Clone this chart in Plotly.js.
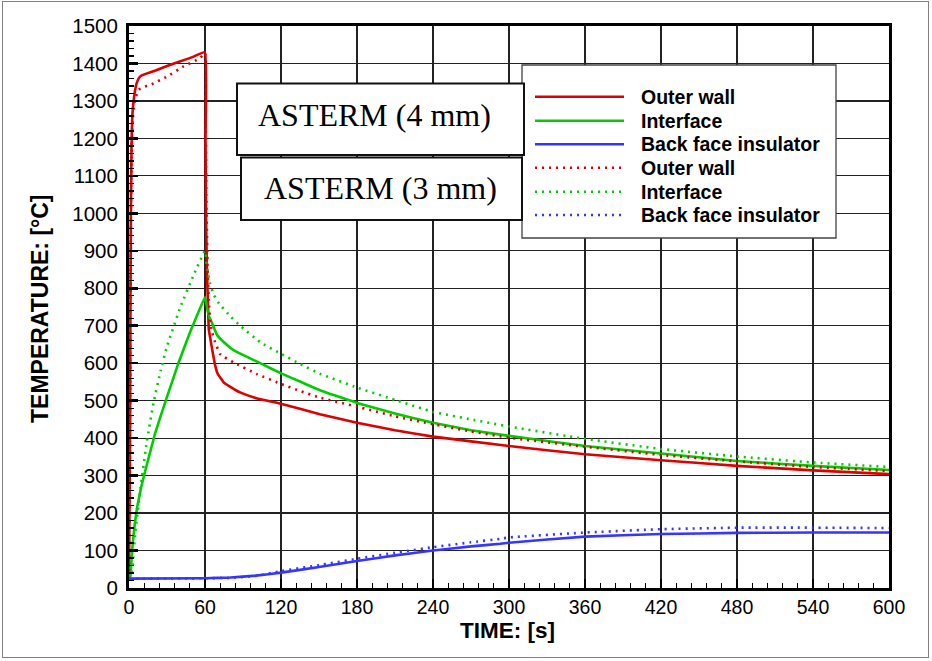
<!DOCTYPE html>
<html>
<head>
<meta charset="utf-8">
<script src="https://cdn.plot.ly/plotly-3.0.1.min.js"></script>
<style>
html,body{margin:0;padding:0;background:#fff;}
#wrap{position:relative;width:932px;height:661px;}
#chart{width:932px;height:661px;}
#frame{position:absolute;left:2px;top:1px;width:925px;height:655px;border:1.5px solid #808080;pointer-events:none;}
</style>
</head>
<body>
<div id="wrap"><div id="chart"></div><div id="frame"></div></div>
<script>
// ---- data ----
const seriesNames = ["Outer wall", "Interface", "Back face insulator"];
const xTickVals = [0, 60, 120, 180, 240, 300, 360, 420, 480, 540, 600];
const yTickVals = [0,100,200,300,400,500,600,700,800,900,1000,1100,1200,1300,1400,1500];

// ASTERM 4 mm (solid)
const tOuter4 = [0,0.8,1.2,1.6,2,2.5,3,4,5,6,8,10,20,30,40,50,60,60.4,60.8,61.5,62.5,63,65.5,68,70,74.7,80,87.7,100,120.6,150.7,180,210,240,300,360,420,480,540,600];
const TOuter4 = [25,400,800,1050,1180,1250,1280,1310,1332,1347,1362,1368,1380,1393,1405,1417,1430,1200,1000,850,740,690,640,595,572,549,537,522,507,491,464,441,421,404,379,357,341,326,314,304];
const tInter4 = [0,1,2,3,4.5,6.4,10,13,20.8,30,39,48.5,55,60,61,62,63.5,65.5,69.4,75,82.5,90,103.6,120.6,135,150.7,180,210,240,270,300,360,420,480,540,600];
const TInter4 = [25,30,75,120,170,215,275,315,415,510,600,685,738,776,760,742,722,708,676,656,635,622,600,572,551,528,494,466,441,421,406,379,359,339,326,315];
const tBack4 = [0,60,80,100,120,150,180,210,240,270,293,300,360,420,480,540,600];
const TBack4 = [25,26,28,33,41,56,72,87,100,111,118,121,137,144,147,148,148];

// ASTERM 3 mm (dotted)
const tOuter3 = [0,0.8,1.2,1.6,2,2.5,3,4,5,7.7,12,17,30,43,56,60,60.5,61,62,63,65,68,72,82.5,101,120.6,135,150.7,180,210,240,270,300,360,420,480,540,600];
const TOuter3 = [25,400,780,1020,1150,1220,1255,1290,1307,1330,1338,1343,1365,1392,1414,1428,1250,1050,860,760,690,656,624,602,571,544,526,508,484,458,437,418,401,377,355,338,323,312];
const tInter3 = [0,1,2.4,5,9,14,19.4,25,30,40.6,51,60,61,62,64,67,70.5,80,87.7,103.6,120.6,135,150.7,180,210,240,270,300,360,420,480,540,600];
const TInter3 = [25,30,45,150,265,390,495,580,645,750,835,900,872,850,812,782,762,725,700,656,624,598,572,535,502,470,450,431,398,371,351,335,323];
const tBack3 = [0,60,80,100,120,150,180,210,240,270,293,300,360,420,480,540,600];
const TBack3 = [25,26,27,32,45,61,78,94,109,122,131,135,148,157,161,161,160];

// ---- styling ----
const RED = '#dd0000', GREEN = '#00cc00', BLUE = '#3535ff';
const DOT = '2px,5px';
const SANS = 'Liberation Sans, Arial, Helvetica, sans-serif';
const SERIF = 'Liberation Serif, Times New Roman, serif';

const M = {l:129, r:43, t:26, b:73};
const W = 932, H = 661;
const PW = W - M.l - M.r, PH = H - M.t - M.b;
const X = px => (px - M.l) / PW;         // pixel -> paper
const Y = py => (H - M.b - py) / PH;

function tr(x, y, name, color, dash){
  return {x:x, y:y, name:name, type:'scatter', mode:'lines',
    line:{color:color, width:2.6, dash:dash, shape:'spline', smoothing:0.3}, showlegend:false, hoverinfo:'skip'};
}
const data = [
  tr(tOuter4, TOuter4, seriesNames[0], RED, 'solid'),
  tr(tInter4, TInter4, seriesNames[1], GREEN, 'solid'),
  tr(tBack4, TBack4, seriesNames[2], BLUE, 'solid'),
  tr(tOuter3, TOuter3, seriesNames[0], RED, DOT),
  tr(tInter3, TInter3, seriesNames[1], GREEN, DOT),
  tr(tBack3, TBack3, seriesNames[2], BLUE, DOT)
];

// custom legend (long line samples)
const legRows = [96.7, 120.7, 144.3, 167.7, 191.7, 215];
const legCols = [RED, GREEN, BLUE, RED, GREEN, BLUE];
const legDash = ['solid','solid','solid',DOT,DOT,DOT];
const legText = [seriesNames[0], seriesNames[1], seriesNames[2], seriesNames[0], seriesNames[1], seriesNames[2]];

const shapes = [
  {type:'rect', xref:'paper', yref:'paper', x0:X(522), x1:X(836), y0:Y(238), y1:Y(65),
   line:{color:'#444', width:1.3}, fillcolor:'#fff', layer:'above'},
  {type:'rect', xref:'paper', yref:'paper', x0:X(237), x1:X(524), y0:Y(155), y1:Y(83.5),
   line:{color:'#111', width:2}, fillcolor:'#fff', layer:'above'},
  {type:'rect', xref:'paper', yref:'paper', x0:X(241), x1:X(522), y0:Y(220), y1:Y(157.5),
   line:{color:'#111', width:2}, fillcolor:'#fff', layer:'above'}
];
const annotations = [
  {xref:'paper', yref:'paper', x:X(374), y:Y(115), text:'ASTERM (4 mm)', showarrow:false,
   font:{family:SERIF, size:32, color:'#000'}, xanchor:'center', yanchor:'middle'},
  {xref:'paper', yref:'paper', x:X(380), y:Y(188), text:'ASTERM (3 mm)', showarrow:false,
   font:{family:SERIF, size:32, color:'#000'}, xanchor:'center', yanchor:'middle'},
  {xref:'paper', yref:'paper', x:X(507), y:Y(630), text:'<b>TIME: [s]</b>', showarrow:false,
   font:{family:SANS, size:22.5, color:'#000'}, xanchor:'center', yanchor:'middle'},
  {xref:'paper', yref:'paper', x:X(40), y:Y(309), text:'<b>TEMPERATURE: [°C]</b>', showarrow:false,
   textangle:-90, font:{family:SANS, size:23, color:'#000'}, xanchor:'center', yanchor:'middle'}
];
legRows.forEach((ry, i) => {
  shapes.push({type:'line', xref:'paper', yref:'paper', x0:X(535), x1:X(624), y0:Y(ry), y1:Y(ry),
    line:{color:legCols[i], width:2.6, dash:legDash[i]}, layer:'above'});
  annotations.push({xref:'paper', yref:'paper', x:X(639), y:Y(ry), text:'<b>'+legText[i]+'</b>', showarrow:false,
    font:{family:SANS, size:19.5, color:'#000'}, xanchor:'left', yanchor:'middle'});
});

const axisCommon = {
  showline:true, mirror:true, linecolor:'#000', linewidth:3,
  showgrid:true, gridcolor:'#222', gridwidth:1.2, zeroline:false,
  ticks:'inside', ticklen:9, tickwidth:2.5, tickcolor:'#000',
  tickfont:{family:SANS, size:20.5, color:'#000'}, fixedrange:true
};
const layout = {
  width:W, height:H, margin:M, paper_bgcolor:'#fff', plot_bgcolor:'#fff',
  showlegend:false,
  xaxis: Object.assign({}, axisCommon, {range:[0,600], tickmode:'array', tickvals:xTickVals,
    ticktext:xTickVals.map(String), tickfont:{family:SANS, size:19.5, color:'#000'},
    minor:{dtick:12, ticks:'inside', ticklen:5, tickwidth:1.3, tickcolor:'#000', showgrid:false}}),
  yaxis: Object.assign({}, axisCommon, {range:[0,1500], tickmode:'array', tickvals:yTickVals,
    ticktext:yTickVals.map(String), ticklabelstandoff:4,
    minor:{dtick:20, ticks:'inside', ticklen:5, tickwidth:1.3, tickcolor:'#000', showgrid:false}}),
  shapes:shapes, annotations:annotations
};
Plotly.newPlot('chart', data, layout, {staticPlot:true, displayModeBar:false});
</script>
</body>
</html>
